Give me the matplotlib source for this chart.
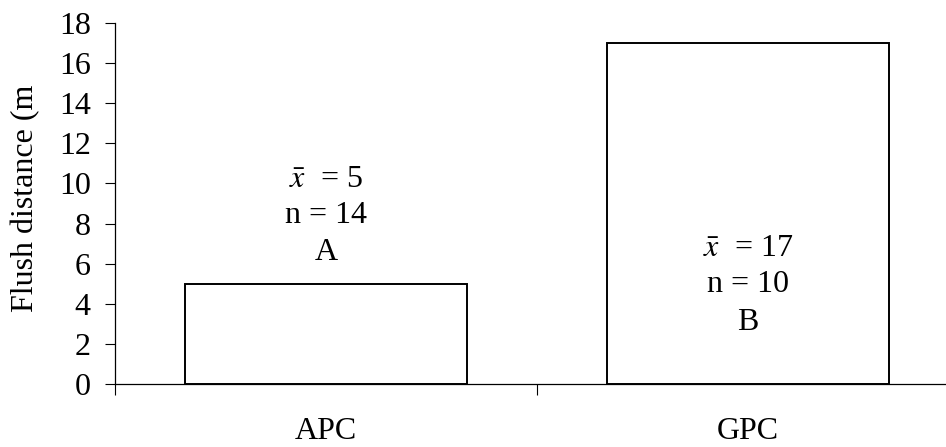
import matplotlib
matplotlib.use("Agg")
import matplotlib.pyplot as plt

categories = ["APC", "GPC"]
means = [5, 17]
counts = [14, 10]
groups = ["A", "B"]
yticks = [0, 2, 4, 6, 8, 10, 12, 14, 16, 18]

plt.rcParams['font.family'] = ['Liberation Serif', 'DejaVu Serif']
plt.rcParams['mathtext.fontset'] = 'stix'

FS = 23

fig = plt.figure(figsize=(9.46, 4.47), dpi=100)
ax = fig.add_axes([115/946, 63/447, 844/946, 361/447])

x = list(range(len(categories)))
ax.bar(x, means, width=0.668, color='white', edgecolor='black', linewidth=1.4, zorder=3)

ax.set_xlim(-0.5, len(categories) - 0.5)
ax.set_ylim(0, 18)
ax.set_yticks(yticks)
ax.set_yticklabels([str(t) for t in yticks], fontsize=FS)

ax.set_xticks([i - 0.5 for i in range(len(categories) + 1)])
ax.set_xticklabels([])
ax.set_xticks(x, minor=True)
ax.set_xticklabels(categories, minor=True, fontsize=FS)
ax.tick_params(axis='x', which='minor', length=0, pad=24)
ax.tick_params(axis='x', which='major', length=8, width=0.8, direction='out')
ax.tick_params(axis='y', length=7.5, width=0.8, direction='out', pad=10)

for s in ['top', 'right']:
    ax.spines[s].set_visible(False)
for s in ['left', 'bottom']:
    ax.spines[s].set_linewidth(0.9)

px_per_unit = 361 / 18
label_px = [(179, 215, 253), (248, 285, 322)]
for i in range(len(categories)):
    ys = [(384 - p) / px_per_unit for p in label_px[i]]
    ax.text(x[i], ys[0], r'$\bar{x}$  = ' + str(means[i]), ha='center', va='center', fontsize=FS, zorder=4)
    ax.text(x[i], ys[1], 'n = ' + str(counts[i]), ha='center', va='center', fontsize=FS, zorder=4)
    ax.text(x[i], ys[2], groups[i], ha='center', va='center', fontsize=FS, zorder=4)

fig.text(26/946, (447 - 312)/447, 'Flush distance (m', rotation=90, ha='center', va='bottom', fontsize=FS)

fig.savefig('out.png', dpi=100)
